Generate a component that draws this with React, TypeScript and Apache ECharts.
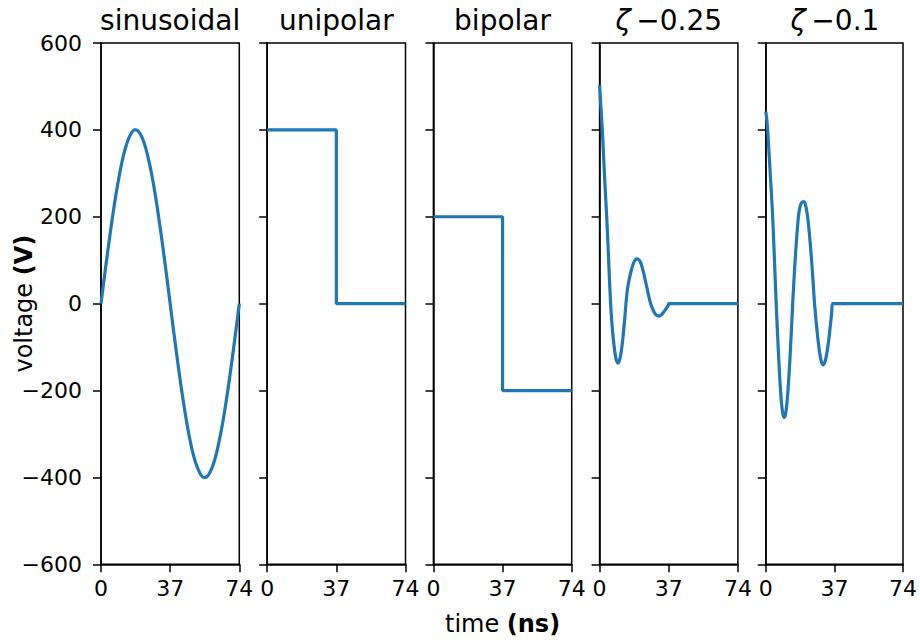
import React, { useEffect, useRef } from "react";
import * as echarts from "echarts";

const panelTitles = ["sinusoidal", "unipolar", "bipolar", "ζ|0.25", "ζ|0.1"];
const xTickValues = [0, 37, 74];
const yTickValues = [-600, -400, -200, 0, 200, 400, 600];

const sinusoidalT = [0, 2, 4, 6, 8, 10, 12, 14, 16, 18, 18.5, 20, 22, 24, 26, 28, 30, 32, 34, 36, 37, 39, 41, 43, 45, 47, 49, 51, 53, 55, 55.5, 57, 59, 61, 63, 65, 67, 69, 71, 73, 74];
const sinusoidalV = [0, 68, 133, 195, 251, 300, 341, 371, 391, 400, 400, 397, 382, 357, 321, 277, 224, 165, 101, 34, 0, -68, -133, -195, -251, -300, -341, -371, -391, -400, -400, -397, -382, -357, -321, -277, -224, -165, -101, -34, 0];

const unipolarT = [0, 37, 37, 74];
const unipolarV = [400, 400, 0, 0];

const bipolarT = [0, 37, 37, 74];
const bipolarV = [200, 200, -200, -200];

const zeta025T = [0, 0.7, 1.45, 2.2, 3, 3.8, 4.5, 5.2, 5.9, 6.5, 7, 7.35, 8, 8.5, 9, 9.85, 10.8, 11.8, 12.8, 13.5, 14.1, 14.8, 15.8, 16.8, 17.8, 18.8, 20.1, 21, 22, 23, 24, 25, 26, 27, 28, 29, 30, 31, 31.8, 33, 34, 35, 36, 36.8, 37, 38, 74];
const zeta025V = [503, 452, 400, 332, 264, 200, 134, 64, 0, -40, -66, -82, -106, -121, -131, -137, -128, -104, -64, -32, 0, 30, 55, 74, 89, 99, 103, 101, 94, 80, 63, 43, 23, 5, -8, -18, -25, -28, -28.6, -26, -21, -15, -9, -3, 0, 0, 0];

const zeta01T = [0, 0.5, 1, 1.8, 2.6, 3.2, 3.7, 4.2, 4.6, 5.1, 5.6, 6.5, 7.2, 7.8, 8.5, 9.2, 9.9, 10.6, 11.3, 11.9, 12.6, 13.3, 13.9, 14.5, 15.2, 16, 16.8, 17.6, 18.4, 19.2, 20.5, 21.3, 22.1, 22.9, 23.7, 24.5, 25.4, 26.3, 27.2, 28.1, 29, 30, 30.9, 31.9, 32.9, 33.9, 34.9, 35.5, 36, 37, 74];
const zeta01V = [442, 425, 400, 343, 284, 240, 200, 150, 108, 54, 0, -85, -145, -190, -230, -254, -262, -255, -233, -203, -158, -104, -53, 0, 55, 112, 160, 200, 222, 232, 235, 229, 213, 187, 152, 110, 57, 0, -43, -81, -112, -134, -141, -134, -115, -85, -47, -22, 0, 0, 0];

const seriesT = [sinusoidalT, unipolarT, bipolarT, zeta025T, zeta01T];
const seriesV = [sinusoidalV, unipolarV, bipolarV, zeta025V, zeta01V];
const seriesSmooth = [0.3, false, false, 0.35, 0.35];

const FONT = "DejaVu Sans";
const GRID_LEFT = 101;
const GRID_STEP = 166.2;
const GRID_W = 138.3;
const GRID_TOP = 43;
const GRID_H = 521.3;

function fmtMinus(v: number) {
  return String(v).replace("-", "\u2212");
}

export default function App() {
  const ref = useRef<HTMLDivElement>(null);
  useEffect(() => {
    if (!ref.current) return;
    const chart = echarts.init(ref.current, null, { renderer: "svg" });
    const axisLineStyle = { color: "#000", width: 1.5 };
    const grids: any[] = [];
    const xAxes: any[] = [];
    const yAxes: any[] = [];
    const series: any[] = [];
    const graphics: any[] = [];
    for (let i = 0; i < 5; i++) {
      const left = GRID_LEFT + i * GRID_STEP;
      grids.push({
        left,
        top: GRID_TOP,
        width: GRID_W,
        height: GRID_H,
        show: true,
        borderColor: "#000",
        borderWidth: 1.5,
        backgroundColor: "transparent",
      });
      xAxes.push({
        type: "value",
        gridIndex: i,
        min: xTickValues[0],
        max: xTickValues[xTickValues.length - 1],
        interval: xTickValues[1] - xTickValues[0],
        axisLine: { show: true, onZero: false, lineStyle: axisLineStyle },
        axisTick: { show: true, length: 8, lineStyle: axisLineStyle },
        axisLabel: {
          show: true,
          fontSize: 22,
          color: "#000",
          fontFamily: FONT,
          margin: 13,
          showMinLabel: true,
          showMaxLabel: true,
        },
        splitLine: { show: false },
      });
      yAxes.push({
        type: "value",
        gridIndex: i,
        min: yTickValues[0],
        max: yTickValues[yTickValues.length - 1],
        interval: yTickValues[1] - yTickValues[0],
        axisLine: { show: true, onZero: false, lineStyle: axisLineStyle },
        axisTick: { show: true, length: 8, lineStyle: axisLineStyle },
        axisLabel: {
          show: i === 0,
          fontSize: 22,
          color: "#000",
          fontFamily: FONT,
          margin: 19,
          formatter: (v: number) => fmtMinus(v),
        },
        splitLine: { show: false },
      });
      const ts = seriesT[i];
      const vs = seriesV[i];
      series.push({
        type: "line",
        xAxisIndex: i,
        yAxisIndex: i,
        data: ts.map((t, k) => [t, vs[k]]),
        showSymbol: false,
        symbol: "none",
        lineStyle: { color: "#1f77b4", width: 3.2 },
        itemStyle: { color: "#1f77b4" },
        smooth: seriesSmooth[i],
        silent: true,
      });
      const title = panelTitles[i];
      const cx = left + GRID_W / 2;
      if (title.indexOf("|") >= 0) {
        const parts = title.split("|");
        graphics.push({
          type: "text",
          x: cx,
          y: 20,
          style: {
            text: `{z|${parts[0]}}{r|\u2009\u2212${parts[1]}}`,
            textAlign: "center",
            textVerticalAlign: "middle",
            rich: {
              z: { fontFamily: FONT, fontSize: 28, fontStyle: "italic", fill: "#000" },
              r: { fontFamily: FONT, fontSize: 28, fill: "#000" },
            },
          },
        });
      } else {
        graphics.push({
          type: "text",
          x: cx,
          y: 20,
          style: {
            text: title,
            fontFamily: FONT,
            fontSize: 28,
            fill: "#000",
            textAlign: "center",
            textVerticalAlign: "middle",
          },
        });
      }
    }
    const plotCenter = (GRID_LEFT + GRID_LEFT + 4 * GRID_STEP + GRID_W) / 2;
    graphics.push({
      type: "text",
      x: plotCenter,
      y: 624,
      style: {
        text: "{n|time }{b|(ns)}",
        textAlign: "center",
        textVerticalAlign: "middle",
        rich: {
          n: { fontFamily: FONT, fontSize: 24, fill: "#000" },
          b: { fontFamily: FONT, fontSize: 24, fontWeight: "bold", fill: "#000" },
        },
      },
    });
    graphics.push({
      type: "text",
      x: 24,
      y: GRID_TOP + GRID_H / 2,
      rotation: Math.PI / 2,
      style: {
        text: "{n|voltage }{b|(V)}",
        textAlign: "center",
        textVerticalAlign: "middle",
        rich: {
          n: { fontFamily: FONT, fontSize: 24, fill: "#000" },
          b: { fontFamily: FONT, fontSize: 24, fontWeight: "bold", fill: "#000" },
        },
      },
    });
    chart.setOption({
      animation: false,
      backgroundColor: "#fff",
      textStyle: { fontFamily: FONT },
      grid: grids,
      xAxis: xAxes,
      yAxis: yAxes,
      series,
      graphic: graphics,
    });
    return () => chart.dispose();
  }, []);
  return (
    <div
      ref={ref}
      style={{ position: "fixed", left: 0, top: 0, width: 920, height: 644 }}
    />
  );
}
